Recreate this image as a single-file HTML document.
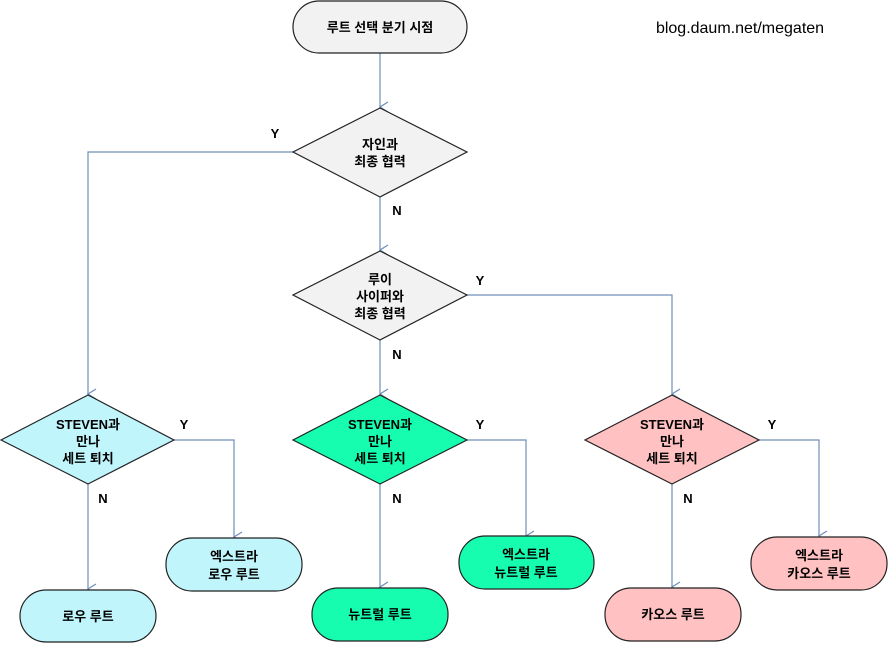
<!DOCTYPE html>
<html><head><meta charset="utf-8"><style>
html,body{margin:0;padding:0;background:#fff;}
svg{display:block;}
text{font-family:"Liberation Sans","Noto Sans CJK KR",sans-serif;font-size:13px;font-weight:bold;fill:#000;text-anchor:middle;}
.l{fill:none;stroke:#6f8fb8;stroke-width:1.2;}
.s{stroke:#222;stroke-width:1.2;}
</style></head><body>
<svg width="890" height="653" viewBox="0 0 890 653">
<defs><marker id="a" viewBox="0 0 12 12" refX="6" refY="11" markerWidth="12" markerHeight="12" markerUnits="userSpaceOnUse" orient="auto-start-reverse"><path d="M1,3 L6,11 L11,3" fill="none" stroke="#6f8fb8" stroke-width="1.2"/></marker></defs>
<!-- connectors -->
<path class="l" d="M380,53 V107" marker-end="url(#a)"/>
<path class="l" d="M293,152 H88 V394" marker-end="url(#a)"/>
<path class="l" d="M380,197 V250" marker-end="url(#a)"/>
<path class="l" d="M467,295 H672 V394" marker-end="url(#a)"/>
<path class="l" d="M380,340 V394" marker-end="url(#a)"/>
<path class="l" d="M174,440 H234 V537" marker-end="url(#a)"/>
<path class="l" d="M88,484 V589" marker-end="url(#a)"/>
<path class="l" d="M467,440 H526 V536" marker-end="url(#a)"/>
<path class="l" d="M380,484 V587" marker-end="url(#a)"/>
<path class="l" d="M759,440 H819 V536" marker-end="url(#a)"/>
<path class="l" d="M672,484 V587" marker-end="url(#a)"/>
<!-- labels -->
<text x="275" y="138">Y</text>
<text x="397" y="215">N</text>
<text x="480" y="285">Y</text>
<text x="397" y="359">N</text>
<text x="184" y="429">Y</text>
<text x="103" y="503">N</text>
<text x="480" y="429">Y</text>
<text x="397" y="503">N</text>
<text x="772" y="429">Y</text>
<text x="688" y="503">N</text>
<text x="740" y="33" style="font-weight:normal;font-size:16px">blog.daum.net/megaten</text>
<!-- start -->
<rect class="s" x="293" y="1" width="174" height="52" rx="26" fill="#f2f2f2"/>
<text x="380" y="32">루트 선택 분기 시점</text>
<!-- diamond 1 -->
<polygon class="s" points="380,108 467,152 380,197 293,152" fill="#f2f2f2"/>
<text x="380" y="149">자인과</text><text x="380" y="166">최종 협력</text>
<!-- diamond 2 -->
<polygon class="s" points="380,251 467,295 380,340 293,295" fill="#f2f2f2"/>
<text x="380" y="284">루이</text><text x="380" y="301">사이퍼와</text><text x="380" y="318">최종 협력</text>
<!-- lower diamonds -->
<polygon class="s" points="88,395 174,440 88,484 1,440" fill="#bff5fb"/>
<text x="88" y="429">STEVEN과</text><text x="88" y="446">만나</text><text x="88" y="463">세트 퇴치</text>
<polygon class="s" points="380,395 467,440 380,484 293,440" fill="#17fdb0"/>
<text x="380" y="429">STEVEN과</text><text x="380" y="446">만나</text><text x="380" y="463">세트 퇴치</text>
<polygon class="s" points="672,395 759,440 672,484 585,440" fill="#ffc1c1"/>
<text x="672" y="429">STEVEN과</text><text x="672" y="446">만나</text><text x="672" y="463">세트 퇴치</text>
<!-- terminals -->
<rect class="s" x="20" y="590" width="136" height="52" rx="26" fill="#bff5fb"/>
<text x="88" y="621">로우 루트</text>
<rect class="s" x="166" y="538" width="136" height="53" rx="26" fill="#bff5fb"/>
<text x="234" y="561">엑스트라</text><text x="234" y="579">로우 루트</text>
<rect class="s" x="312" y="588" width="136" height="53" rx="26" fill="#17fdb0"/>
<text x="380" y="619">뉴트럴 루트</text>
<rect class="s" x="459" y="536" width="135" height="53" rx="26" fill="#17fdb0"/>
<text x="526" y="559">엑스트라</text><text x="526" y="577">뉴트럴 루트</text>
<rect class="s" x="605" y="588" width="136" height="53" rx="26" fill="#ffc1c1"/>
<text x="673" y="619">카오스 루트</text>
<rect class="s" x="751" y="537" width="136" height="53" rx="26" fill="#ffc1c1"/>
<text x="819" y="560">엑스트라</text><text x="819" y="578">카오스 루트</text>
</svg>
</body></html>
